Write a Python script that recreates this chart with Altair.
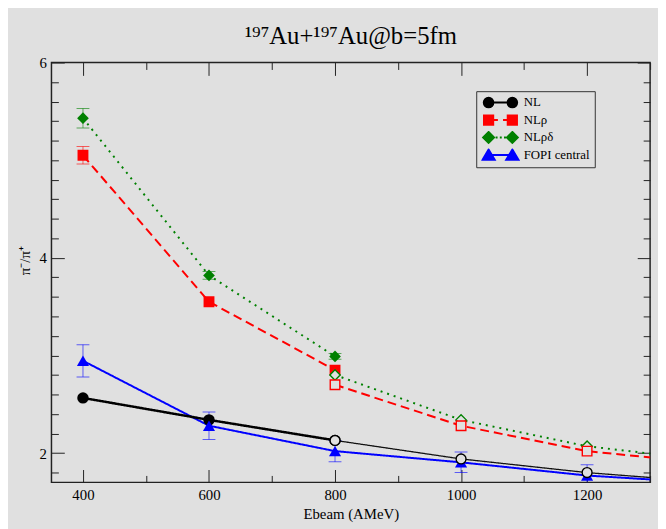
import altair as alt
import pandas as pd

BG = "#e0e0e0"
SERIF = "Liberation Serif"
TICK = "#222222"

# ---------------- data ----------------
series_names = ["NL", "NLρ", "NLρδ", "FOPI central"]
series_colors = ["#000000", "#ff0000", "#008000", "#0000ff"]

E_filled = [400, 600, 800]
E_open = [800, 1000, 1200, 1400]
E_fopi = [400, 600, 800, 1000, 1200, 1400]

nl_filled = [2.565, 2.34, 2.13]
nlrho_filled = [5.05, 3.55, 2.85]
nlrhodelta_filled = [5.43, 3.82, 2.99]
nlrho_filled_err = [0.09, 0.0, 0.0]
nlrhodelta_filled_err = [0.10, 0.04, 0.03]

nl_open = [2.13, 1.94, 1.80, 1.70]
nlrho_open = [2.70, 2.28, 2.02, 1.89]
nlrhodelta_open = [2.80, 2.34, 2.07, 1.92]

fopi = [2.945, 2.28, 2.02, 1.905, 1.77, 1.69]
fopi_err = [0.165, 0.14, 0.11, 0.105, 0.11, 0.0]

x_ticks = [400, 500, 600, 700, 800, 900, 1000, 1100, 1200, 1300]
y_ticks = [1.8, 2.0, 2.2, 2.4, 2.6, 2.8, 3.0, 3.2, 3.4, 3.6, 3.8, 4.0,
           4.2, 4.4, 4.6, 4.8, 5.0, 5.2, 5.4, 5.6, 5.8, 6.0]

# legend glyphs: marker - line - marker (custom symbol paths)
def _circ(cx, r):
    return f"M{cx - r},0A{r},{r} 0 1 1 {cx + r},0A{r},{r} 0 1 1 {cx - r},0Z"

def _sq(cx, h):
    return f"M{cx - h},{-h}H{cx + h}V{h}H{cx - h}Z"

def _dia(cx, h):
    return f"M{cx},{-h}L{cx + h},0L{cx},{h}L{cx - h},0Z"

def _tri(cx):
    return f"M{cx},-0.85L{cx + 0.95},0.75L{cx - 0.95},0.75Z"

legend_paths = [
    "M0,0L3.7,0" + _circ(0, 0.75) + _circ(3.7, 0.75),
    "M0.75,0L1.45,0M2.25,0L2.95,0" + _sq(0, 0.72) + _sq(3.7, 0.72),
    "M1.1,0L1.4,0M1.75,0L2.05,0M2.4,0L2.7,0" + _dia(0, 0.85) + _dia(3.7, 0.85),
    "M0,0L3.7,0" + _tri(0) + _tri(3.7),
]

# ---------------- scales & axes ----------------
xscale = alt.Scale(domain=[350, 1300], nice=False, zero=False)
yscale = alt.Scale(domain=[1.7, 6.0], nice=False, zero=False)

x_dash = {"condition": {"test": "datum.value % 200 == 0", "value": [13, 2000]},
          "value": [7, 2000]}
y_dash = {"condition": {"test": "datum.value % 2 == 0", "value": [13, 2000]},
          "value": [7, 2000]}

common_axis = dict(grid=True, gridColor=TICK, gridWidth=1, gridOpacity=1,
                   ticks=False, domain=False, labelFlush=False, labelOverlap=False)

x_bottom = alt.Axis(values=x_ticks, gridDash=x_dash,
                    labelExpr="datum.value % 200 == 0 ? format(datum.value, 'd') : ''",
                    labelFont=SERIF, labelFontSize=15, labelColor="black", labelPadding=5,
                    title="Ebeam (AMeV)", titleFont=SERIF, titleFontSize=15,
                    titleFontWeight="normal", titleColor="black", titlePadding=5,
                    **common_axis)
x_top = alt.Axis(values=x_ticks, gridDash=x_dash, orient="top", labels=False,
                 title=None, **common_axis)
y_left = alt.Axis(values=y_ticks, gridDash=y_dash,
                  labelExpr="datum.value % 2 == 0 ? format(datum.value, 'd') : ''",
                  labelFont=SERIF, labelFontSize=15, labelColor="black", labelPadding=5,
                  title="π⁻/π⁺", titleFont=SERIF, titleFontSize=15, titleY=200,
                  titleFontWeight="normal", titleColor="black", titlePadding=7,
                  **common_axis)
y_right = alt.Axis(values=y_ticks, gridDash=y_dash, orient="right", labels=False,
                   title=None, **common_axis)


def enc(xa=None, ya=None, yfield="v:Q"):
    return dict(x=alt.X("E:Q", scale=xscale, axis=xa),
                y=alt.Y(yfield, scale=yscale, axis=ya))


def line_layer(E, vals, color, dash, width, xa=None, ya=None):
    df = pd.DataFrame({"E": E, "v": vals})
    return alt.Chart(df).mark_line(color=color, strokeDash=dash, strokeWidth=width,
                                   clip=True).encode(**enc(xa, ya))


def err_layers(E, vals, errs, color):
    df = pd.DataFrame({"E": E, "v": vals, "err": errs})
    base = alt.Chart(df).transform_filter("datum.err > 0").transform_calculate(
        lo="datum.v - datum.err", hi="datum.v + datum.err")
    rule = base.mark_rule(color=color, opacity=0.6, strokeWidth=1, clip=True).encode(
        x=alt.X("E:Q", scale=xscale, axis=None),
        y=alt.Y("lo:Q", scale=yscale, axis=None), y2="hi:Q")
    caps = []
    for f in ["lo:Q", "hi:Q"]:
        caps.append(base.mark_tick(orient="horizontal", color=color, opacity=0.6, size=13,
                                   thickness=1, clip=True).encode(**enc(yfield=f)))
    return [rule] + caps


def point_layer(E, vals, shape, size, color, filled):
    df = pd.DataFrame({"E": E, "v": vals})
    if filled:
        mk = alt.Chart(df).mark_point(shape=shape, filled=True, color=color, size=size,
                                      opacity=1, strokeWidth=0, clip=True)
    else:
        mk = alt.Chart(df).mark_point(shape=shape, filled=False, fill=BG, stroke=color,
                                      strokeWidth=1.4, size=size, opacity=1, clip=True)
    return mk.encode(**enc())


layers = [
    line_layer(E_fopi, fopi, "#0000ff", [1, 0], 2, xa=x_top, ya=y_right),
    line_layer(E_filled, nl_filled, "#000000", [1, 0], 2.5, xa=x_bottom, ya=y_left),
    line_layer(E_open, nl_open, "#111111", [1, 0], 1.3),
    line_layer(E_filled, nlrho_filled, "#ff0000", [9, 5], 2),
    line_layer(E_open, nlrho_open, "#ff0000", [9, 5], 2),
    line_layer(E_filled, nlrhodelta_filled, "#008000", [2, 5], 2),
    line_layer(E_open, nlrhodelta_open, "#008000", [2, 5], 2),
]
layers += err_layers(E_filled, nlrho_filled, nlrho_filled_err, "#ff0000")
layers += err_layers(E_filled, nlrhodelta_filled, nlrhodelta_filled_err, "#008000")
layers += err_layers(E_fopi, fopi, fopi_err, "#0000ff")
layers += [
    point_layer(E_filled, nl_filled, "circle", 133, "#000000", True),
    point_layer(E_filled, nlrho_filled, "square", 121, "#ff0000", True),
    point_layer(E_filled, nlrhodelta_filled, "diamond", 140, "#008000", True),
    point_layer(E_fopi, fopi, "triangle-up", 150, "#0000ff", True),
    point_layer(E_open, nlrhodelta_open, "diamond", 110, "#008000", False),
    point_layer(E_open, nlrho_open, "square", 94, "#ff0000", False),
    point_layer(E_open, nl_open, "circle", 100, "#000000", False),
]

leg = alt.Legend(title=None, orient="none", legendX=430, legendY=29,
                 symbolSize=169, symbolStrokeWidth=2, symbolOpacity=1, clipHeight=13,
                 labelFont=SERIF, labelFontSize=13, labelColor="black", labelOffset=28,
                 labelLimit=300, rowPadding=3.7, padding=5,
                 strokeColor="#333333", fillColor=BG)
legend_df = pd.DataFrame({"series": series_names})
legend_layer = alt.Chart(legend_df).mark_point(filled=True, opacity=1, strokeWidth=2).encode(
    fill=alt.Fill("series:N", scale=alt.Scale(domain=series_names, range=series_colors), legend=leg),
    stroke=alt.Stroke("series:N", scale=alt.Scale(domain=series_names, range=series_colors), legend=leg),
    shape=alt.Shape("series:N", scale=alt.Scale(domain=series_names, range=legend_paths), legend=leg),
).transform_filter("false")
layers.append(legend_layer)

chart = alt.layer(*layers).resolve_axis(x="independent", y="independent").properties(
    width=606, height=425,
    background=BG,
    padding={"left": 44, "top": 52, "right": 8, "bottom": 44},
    autosize=alt.AutoSizeParams(type="none"),
    title=alt.TitleParams(text="¹⁹⁷Au+¹⁹⁷Au@b=5fm", font=SERIF, fontSize=25,
                          fontWeight="normal", color="black", anchor="middle",
                          baseline="alphabetic", offset=9, dy=22),
).configure_view(stroke=TICK, strokeWidth=1.5, fill=BG)

chart.save("out.html", embed_options={"renderer": "svg", "actions": False})
